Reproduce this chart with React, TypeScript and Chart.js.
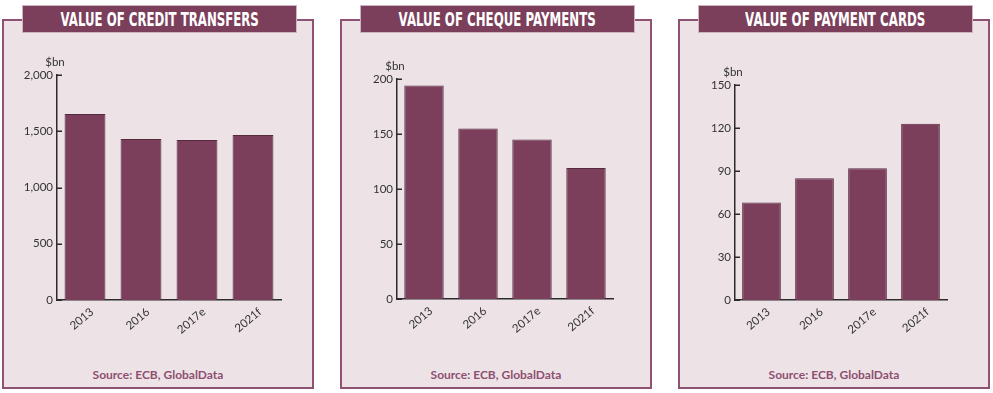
import React, { useEffect, useLayoutEffect, useRef } from "react";
import { Chart, registerables } from "chart.js";

Chart.register(...registerables);

// ---- data ----
const categories = ["2013", "2016", "2017e", "2021f"];
const creditTransfers = [1653, 1431, 1422, 1467];
const chequePayments = [194, 155, 145, 119];
const paymentCards = [68, 85, 92, 123];
const creditTicks = [0, 500, 1000, 1500, 2000];
const chequeTicks = [0, 50, 100, 150, 200];
const cardTicks = [0, 30, 60, 90, 120, 150];
const titles = ["VALUE OF CREDIT TRANSFERS", "VALUE OF CHEQUE PAYMENTS", "VALUE OF PAYMENT CARDS"];
const unitLabel = "$bn";
const sourceText = "Source: ECB, GlobalData";

// ---- styles ----
const BAR = "#7b3f5c";
const BAR_EDGE = "#55293e";
const FRAME = "#8e5373";
const PANEL_BG = "#ede3e7";
const AXIS = "#2b2b2b";
const TEXT = "#333333";

const PANEL_W = 312;
const PANEL_TOP = 19;
const PANEL_H = 370;
const CANVAS_TOP = 40;
const CANVAS_H = 310;

type PanelProps = {
  left: number;
  title: string;
  titleWidth: number;
  values: number[];
  ticks: number[];
  area: { left: number; right: number; top: number; bottom: number };
};

const axisDecor = {
  id: "axisDecor",
  afterDraw(chart: any) {
    const { ctx, chartArea, scales } = chart;
    const y = scales.y;
    ctx.save();
    ctx.strokeStyle = AXIS;
    ctx.lineWidth = 1.5;
    y.ticks.forEach((t: any) => {
      const py = Math.round(y.getPixelForValue(t.value)) + 0.25;
      ctx.beginPath();
      ctx.moveTo(chartArea.left, py);
      ctx.lineTo(chartArea.left + 5, py);
      ctx.stroke();
    });
    ctx.font = "11.5px Lato";
    ctx.fillStyle = TEXT;
    ctx.textAlign = "center";
    ctx.textBaseline = "middle";
    ctx.fillText(unitLabel, chartArea.left - 2, chartArea.top - 13);
    ctx.restore();
  },
};

function Panel({ left, title, titleWidth, values, ticks, area }: PanelProps) {
  const ref = useRef<HTMLCanvasElement>(null);
  const titleRef = useRef<HTMLSpanElement>(null);

  useLayoutEffect(() => {
    const el = titleRef.current;
    if (!el) return;
    const w = el.offsetWidth;
    if (w > 0) el.style.transform = `scaleX(${titleWidth / w})`;
  }, []);

  useEffect(() => {
    if (!ref.current) return;
    const yWidth = area.left;
    const xHeight = CANVAS_H - area.bottom;
    const chart = new Chart(ref.current, {
      type: "bar",
      data: {
        labels: categories,
        datasets: [
          {
            data: values,
            backgroundColor: BAR,
            borderColor: BAR_EDGE,
            borderWidth: 1,
            barPercentage: 0.73,
            categoryPercentage: 1,
          },
        ],
      },
      options: {
        responsive: false,
        animation: false,
        devicePixelRatio: 1,
        layout: { padding: { left: 0, top: area.top, right: PANEL_W - area.right, bottom: 0 } },
        plugins: { legend: { display: false }, tooltip: { enabled: false } },
        scales: {
          x: {
            grid: { display: false },
            border: { display: true, color: AXIS, width: 1.5 },
            ticks: {
              autoSkip: false,
              minRotation: 40,
              maxRotation: 40,
              padding: -3,
              labelOffset: 7,
              color: TEXT,
              font: { family: "Lato", size: 11.5 },
            },
            afterFit: (s: any) => {
              s.height = xHeight;
            },
          },
          y: {
            min: ticks[0],
            max: ticks[ticks.length - 1],
            afterBuildTicks: (s: any) => {
              s.ticks = ticks.map((v) => ({ value: v }));
            },
            grid: { display: false, drawTicks: false },
            border: { display: true, color: AXIS, width: 1.5 },
            ticks: {
              padding: 4,
              color: TEXT,
              font: { family: "Lato", size: 11.5 },
              callback: (v: any) => Number(v).toLocaleString("en-US"),
            },
            afterFit: (s: any) => {
              s.width = yWidth;
            },
          },
        },
      },
      plugins: [axisDecor],
    });
    return () => chart.destroy();
  }, []);

  return (
    <>
      <div
        style={{
          position: "absolute",
          left,
          top: PANEL_TOP,
          width: PANEL_W,
          height: PANEL_H,
          boxSizing: "border-box",
          border: `2px solid ${FRAME}`,
          background: PANEL_BG,
        }}
      />
      <canvas
        ref={ref}
        width={PANEL_W}
        height={CANVAS_H}
        style={{ position: "absolute", left, top: CANVAS_TOP, width: PANEL_W, height: CANVAS_H }}
      />
      <div
        style={{
          position: "absolute",
          left: left + 20,
          top: 5,
          width: 275,
          height: 28,
          boxSizing: "border-box",
          background: BAR,
          border: "1px solid #cdb4c1",
          color: "#ffffff",
          display: "flex",
          alignItems: "center",
          justifyContent: "center",
          overflow: "hidden",
        }}
      >
        <span
          ref={titleRef}
          style={{
            display: "inline-block",
            fontFamily: '"DejaVu Sans", sans-serif',
            fontWeight: 700,
            fontSize: 20,
            lineHeight: "20px",
            whiteSpace: "nowrap",
            transformOrigin: "center center",
            flex: "none",
          }}
        >
          {title}
        </span>
      </div>
      <div
        style={{
          position: "absolute",
          left,
          top: 367,
          width: PANEL_W,
          textAlign: "center",
          fontFamily: "Lato, sans-serif",
          fontWeight: 700,
          fontSize: 12,
          lineHeight: "16px",
          color: "#8d4f70",
        }}
      >
        {sourceText}
      </div>
    </>
  );
}

export default function App() {
  return (
    <div style={{ position: "absolute", left: 0, top: 0, width: 993, height: 393, background: "#ffffff", overflow: "hidden" }}>
      <Panel left={2} title={titles[0]} titleWidth={198} values={creditTransfers} ticks={creditTicks} area={{ left: 55, right: 279, top: 35, bottom: 260 }} />
      <Panel left={340} title={titles[1]} titleWidth={197} values={chequePayments} ticks={chequeTicks} area={{ left: 57, right: 273, top: 39, bottom: 259 }} />
      <Panel left={678} title={titles[2]} titleWidth={180} values={paymentCards} ticks={cardTicks} area={{ left: 57, right: 269, top: 45, bottom: 260 }} />
    </div>
  );
}
